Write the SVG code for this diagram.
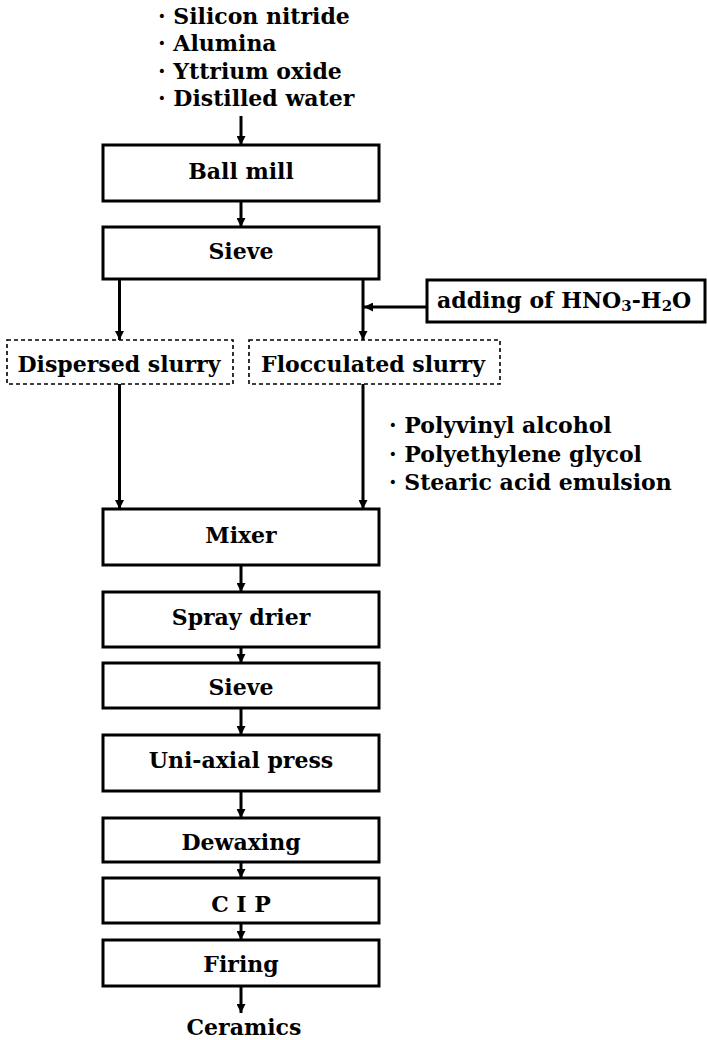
<svg xmlns="http://www.w3.org/2000/svg" width="707" height="1040" viewBox="0 0 707 1040">
<style>
text{font-family:"DejaVu Serif","Liberation Serif",serif;font-weight:bold;font-size:22px;fill:#000}
.c{text-anchor:middle}
.box{fill:#fff;stroke:#000;stroke-width:3}
.dash{fill:#fff;stroke:#000;stroke-width:1.6;stroke-dasharray:4 3}
.ln{stroke:#000;stroke-width:3;fill:none}
</style>
<defs>
<marker id="ah" viewBox="0 0 10 10" refX="10" refY="5" markerWidth="3" markerHeight="3" orient="auto" markerUnits="strokeWidth">
<path d="M0,0 L10,5 L0,10 Z" fill="#000"/>
</marker>
</defs>
<g id="inputs1">
<text x="158" y="24">· Silicon nitride</text>
<text x="158" y="51">· Alumina</text>
<text x="158" y="79">· Yttrium oxide</text>
<text x="158" y="106">· Distilled water</text>
</g>
<g id="connectors">
<line class="ln" x1="241" y1="116" x2="241" y2="145" marker-end="url(#ah)"/>
<line class="ln" x1="241" y1="201" x2="241" y2="227" marker-end="url(#ah)"/>
<line class="ln" x1="119.5" y1="279" x2="119.5" y2="340" marker-end="url(#ah)"/>
<line class="ln" x1="363" y1="279" x2="363" y2="340" marker-end="url(#ah)"/>
<line class="ln" x1="427" y1="307" x2="364" y2="307" marker-end="url(#ah)"/>
<line class="ln" x1="119.5" y1="384" x2="119.5" y2="509" marker-end="url(#ah)"/>
<line class="ln" x1="363" y1="384" x2="363" y2="509" marker-end="url(#ah)"/>
<line class="ln" x1="241" y1="565" x2="241" y2="592" marker-end="url(#ah)"/>
<line class="ln" x1="241" y1="647" x2="241" y2="663" marker-end="url(#ah)"/>
<line class="ln" x1="241" y1="708" x2="241" y2="735" marker-end="url(#ah)"/>
<line class="ln" x1="241" y1="791" x2="241" y2="818" marker-end="url(#ah)"/>
<line class="ln" x1="241" y1="862" x2="241" y2="878" marker-end="url(#ah)"/>
<line class="ln" x1="241" y1="923" x2="241" y2="940" marker-end="url(#ah)"/>
<line class="ln" x1="241" y1="986" x2="241" y2="1013" marker-end="url(#ah)"/>
</g>
<g id="ballmill"><rect class="box" x="103" y="145" width="276" height="56"/><text class="c" x="241" y="179">Ball mill</text></g>
<g id="sieve1"><rect class="box" x="103" y="227" width="276" height="52"/><text class="c" x="241" y="259">Sieve</text></g>
<g id="hno3"><rect class="box" x="427" y="280" width="278" height="42"/><text x="437" y="308">adding of HNO<tspan font-size="15" dy="3">3</tspan><tspan dy="-3">-H</tspan><tspan font-size="15" dy="3">2</tspan><tspan dy="-3">O</tspan></text></g>
<g id="dispersed"><rect class="dash" x="7" y="340" width="226" height="44"/><text class="c" x="119" y="372">Dispersed slurry</text></g>
<g id="flocculated"><rect class="dash" x="249" y="340" width="251" height="44"/><text class="c" x="373" y="372">Flocculated slurry</text></g>
<g id="inputs2">
<text x="389" y="433">· Polyvinyl alcohol</text>
<text x="389" y="462">· Polyethylene glycol</text>
<text x="389" y="490">· Stearic acid emulsion</text>
</g>
<g id="mixer"><rect class="box" x="103" y="509" width="276" height="56"/><text class="c" x="241" y="543">Mixer</text></g>
<g id="spraydrier"><rect class="box" x="103" y="592" width="276" height="55"/><text class="c" x="241" y="625">Spray drier</text></g>
<g id="sieve2"><rect class="box" x="103" y="663" width="276" height="45"/><text class="c" x="241" y="695">Sieve</text></g>
<g id="press"><rect class="box" x="103" y="735" width="276" height="56"/><text class="c" x="241" y="768">Uni-axial press</text></g>
<g id="dewaxing"><rect class="box" x="103" y="818" width="276" height="44"/><text class="c" x="241" y="850">Dewaxing</text></g>
<g id="cip"><rect class="box" x="103" y="878" width="276" height="45"/><text class="c" x="241" y="912">C I P</text></g>
<g id="firing"><rect class="box" x="103" y="940" width="276" height="46"/><text class="c" x="241" y="972">Firing</text></g>
<g id="ceramics"><text class="c" x="244" y="1035">Ceramics</text></g>
</svg>
